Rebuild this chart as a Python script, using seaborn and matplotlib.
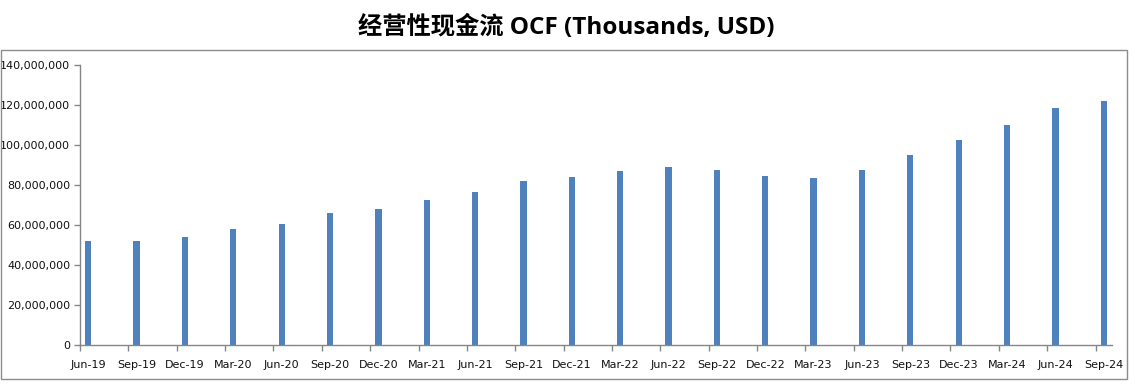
import matplotlib
matplotlib.use("Agg")
import matplotlib.pyplot as plt
import seaborn as sns
import pandas as pd
from matplotlib.patches import Rectangle
from matplotlib.ticker import FuncFormatter

# quarterly operating cash flow (thousands USD)
quarters = [
    "Jun-19", "Sep-19", "Dec-19", "Mar-20", "Jun-20", "Sep-20", "Dec-20", "Mar-21",
    "Jun-21", "Sep-21", "Dec-21", "Mar-22", "Jun-22", "Sep-22", "Dec-22", "Mar-23",
    "Jun-23", "Sep-23", "Dec-23", "Mar-24", "Jun-24", "Sep-24",
]
ocf = [
    52.0, 52.0, 54.0, 58.0, 60.5, 66.0, 68.0, 72.5,
    76.5, 82.0, 84.0, 87.0, 89.0, 87.5, 84.5, 83.5,
    87.5, 95.0, 102.5, 110.0, 118.5, 122.0,
]
ocf = [v * 1e6 for v in ocf]

df = pd.DataFrame({"Quarter": quarters, "OCF": ocf})

sns.set_style("white")
plt.rcParams["font.family"] = ["DejaVu Sans", "Noto Sans CJK SC"]

fig = plt.figure(figsize=(11.35, 3.89), dpi=100)
ax = fig.add_axes([80 / 1135, 44 / 389, (1112 - 80) / 1135, 280 / 389])

sns.barplot(data=df, x="Quarter", y="OCF", color="#4F81BD", width=0.13,
            saturation=1, linewidth=0, ax=ax)

ax.set_xlim(-0.17, len(quarters) - 1 + 0.17)
ax.set_ylim(0, 140e6)
ax.set_yticks(range(0, 140_000_001, 20_000_000))
ax.yaxis.set_major_formatter(FuncFormatter(lambda v, p: f"{int(v):,}"))
ax.set_xlabel("")
ax.set_ylabel("")

# category boundary tick marks like the spreadsheet original
ax.set_xticks([i - 0.17 for i in range(len(quarters))], minor=True)
ax.tick_params(axis="x", which="major", bottom=False, labelsize=8, pad=7,
               labelcolor="#111111")
ax.tick_params(axis="x", which="minor", bottom=True, length=4, width=1,
               color="#868686", direction="out")
ax.tick_params(axis="y", which="major", left=True, length=4, width=1,
               color="#868686", direction="out", labelsize=8, pad=3,
               labelcolor="#111111")

sns.despine(ax=ax)
for s in ["left", "bottom"]:
    ax.spines[s].set_color("#868686")
    ax.spines[s].set_linewidth(1)

fig.add_artist(Rectangle((0.5 / 1135, 10 / 389), 1126 / 1135, 329 / 389,
                         transform=fig.transFigure, fill=False,
                         edgecolor="#8c8c8c", linewidth=1))

fig.text(0.499, 1 - 28 / 389, "经营性现金流 OCF (Thousands, USD)",
         ha="center", va="center", fontsize=17.5, fontweight="bold",
         color="black", family=["Open Sans", "Noto Sans CJK SC"])

fig.savefig("out.png", dpi=100)
